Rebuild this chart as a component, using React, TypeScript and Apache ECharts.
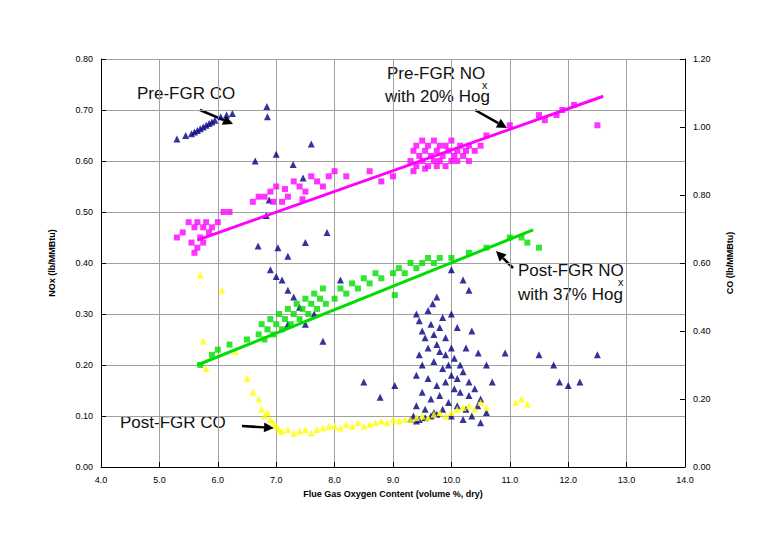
import * as echarts from 'echarts';
import { useEffect, useRef } from 'react';

// [O2 %, NOx lb/MMBtu]
const preNox = [
    [5.3, 0.45], [5.4, 0.46], [5.5, 0.48], [5.55, 0.44], [5.6, 0.47], [5.65, 0.43], [5.7, 0.45], [5.75, 0.47],
    [5.8, 0.48], [5.85, 0.46], [5.9, 0.47], [5.65, 0.48], [5.6, 0.42], [5.75, 0.44], [6.0, 0.48], [6.1, 0.5],
    [6.2, 0.5], [6.6, 0.52], [6.7, 0.53], [6.8, 0.53], [6.9, 0.54], [7.0, 0.55], [7.1, 0.52], [7.2, 0.53],
    [7.3, 0.56], [7.4, 0.55], [7.5, 0.54], [7.6, 0.57], [7.7, 0.56], [7.8, 0.55], [7.9, 0.57], [8.0, 0.58],
    [8.2, 0.57], [8.6, 0.58], [8.8, 0.56], [9.0, 0.57], [6.95, 0.52], [7.15, 0.545], [7.45, 0.525],
    [9.3, 0.6], [9.35, 0.62], [9.4, 0.59], [9.4, 0.63], [9.45, 0.61], [9.5, 0.6], [9.5, 0.64], [9.55, 0.62],
    [9.6, 0.59], [9.6, 0.63], [9.65, 0.61], [9.7, 0.6], [9.7, 0.64], [9.75, 0.62], [9.8, 0.6], [9.8, 0.63],
    [9.85, 0.61], [9.9, 0.59], [9.9, 0.63], [9.95, 0.62], [10.0, 0.6], [10.0, 0.64], [10.05, 0.61],
    [10.1, 0.62], [10.1, 0.6], [10.15, 0.63], [10.2, 0.61], [10.25, 0.62], [10.3, 0.6], [10.3, 0.63],
    [10.4, 0.62], [10.5, 0.63], [9.35, 0.58], [9.55, 0.585], [9.75, 0.59], [10.6, 0.65], [11.0, 0.67],
    [11.5, 0.69], [11.6, 0.68], [11.8, 0.69], [11.9, 0.7], [12.1, 0.71], [12.5, 0.67],
];
const preNoxFit = [[5.65, 0.445], [12.6, 0.727]];

const postNox = [
    [5.7, 0.2], [5.9, 0.22], [6.0, 0.23], [6.2, 0.24], [6.5, 0.25], [6.7, 0.26], [6.75, 0.28], [6.8, 0.25],
    [6.85, 0.27], [6.9, 0.29], [6.95, 0.26], [7.0, 0.28], [7.05, 0.3], [7.1, 0.27], [7.15, 0.29], [7.2, 0.31],
    [7.25, 0.28], [7.3, 0.3], [7.35, 0.32], [7.4, 0.29], [7.45, 0.31], [7.5, 0.33], [7.55, 0.3], [7.6, 0.32],
    [7.65, 0.34], [7.7, 0.31], [7.75, 0.33], [7.8, 0.35], [7.85, 0.32], [8.0, 0.33], [8.1, 0.35], [8.2, 0.34],
    [8.3, 0.36], [8.4, 0.35], [8.5, 0.37], [8.6, 0.36], [8.7, 0.38], [8.8, 0.37], [9.0, 0.38], [9.03, 0.337],
    [9.1, 0.39], [9.2, 0.38], [9.3, 0.4], [9.4, 0.39], [9.5, 0.4], [9.6, 0.41], [9.7, 0.4], [9.8, 0.41],
    [10.0, 0.41], [10.3, 0.42], [10.6, 0.43], [11.0, 0.45], [11.2, 0.45], [11.3, 0.44], [11.5, 0.43],
];
const postNoxFit = [[5.65, 0.2], [11.4, 0.465]];

// [O2 %, CO lb/MMBtu]
const preCo = [
    [5.3, 0.965], [5.45, 0.975], [5.55, 0.98], [5.6, 0.985], [5.65, 0.99], [5.7, 0.995], [5.75, 1.0],
    [5.8, 1.005], [5.85, 1.01], [5.9, 1.015], [5.95, 1.02], [6.05, 1.03], [6.15, 1.035], [6.25, 1.04],
    [6.84, 1.06], [6.85, 1.03], [7.6, 0.95], [6.64, 0.9], [7.0, 0.92], [7.29, 0.89], [7.46, 0.85],
    [6.88, 0.785], [6.83, 0.74], [7.87, 0.69], [7.5, 0.66], [6.69, 0.65], [7.03, 0.645], [7.2, 0.62],
    [6.9, 0.58], [7.0, 0.56], [7.1, 0.55], [7.2, 0.52], [7.3, 0.5], [7.4, 0.47], [7.2, 0.42], [7.5, 0.42],
    [7.8, 0.37], [8.1, 0.55], [7.65, 0.45],
    [9.4, 0.45], [9.45, 0.43], [9.6, 0.46], [9.75, 0.5], [9.68, 0.48], [9.5, 0.4], [9.55, 0.38], [9.65, 0.42],
    [9.7, 0.39], [9.8, 0.41], [9.85, 0.44], [9.9, 0.38], [10.1, 0.41], [9.6, 0.35], [9.75, 0.36], [9.8, 0.34],
    [9.9, 0.33], [10.0, 0.35], [10.05, 0.32], [10.15, 0.3], [9.45, 0.33], [9.5, 0.3], [9.7, 0.31], [9.85, 0.29],
    [9.95, 0.3], [10.0, 0.27], [10.1, 0.26], [10.2, 0.28], [10.3, 0.25], [9.4, 0.27], [9.6, 0.26], [9.75, 0.24],
    [9.9, 0.25], [10.05, 0.23], [10.15, 0.22], [10.3, 0.21], [10.4, 0.23], [10.5, 0.2], [9.5, 0.22], [9.65, 0.2],
    [9.8, 0.21], [9.95, 0.19], [10.1, 0.18], [10.25, 0.17], [10.45, 0.18], [10.6, 0.16], [9.4, 0.18], [9.55, 0.17],
    [9.7, 0.16], [9.85, 0.17], [10.0, 0.15], [10.2, 0.14], [10.35, 0.15], [10.5, 0.13], [9.35, 0.15], [9.45, 0.14],
    [9.55, 0.145], [9.65, 0.15], [9.75, 0.155], [9.3, 0.14], [9.4, 0.135], [10.46, 0.335], [10.92, 0.335],
    [9.03, 0.24], [8.78, 0.205], [8.5, 0.25], [11.5, 0.33], [11.75, 0.3], [12.5, 0.33], [12.0, 0.24],
    [11.85, 0.25], [12.2, 0.25], [10.7, 0.25], [10.6, 0.3], [10.25, 0.35], [10.3, 0.52], [10.0, 0.58],
    [10.2, 0.55], [10.0, 0.45], [10.35, 0.4],
];

const postCo = [
    [5.7, 0.565], [5.75, 0.37], [5.8, 0.29], [6.07, 0.52], [6.3, 0.34], [6.5, 0.26], [6.6, 0.22], [6.7, 0.2],
    [6.75, 0.17], [6.8, 0.15], [6.85, 0.16], [6.9, 0.14], [6.95, 0.13], [7.0, 0.12], [7.05, 0.11], [7.1, 0.105],
    [7.2, 0.11], [7.3, 0.1], [7.4, 0.105], [7.5, 0.11], [7.6, 0.1], [7.7, 0.11], [7.8, 0.115], [7.9, 0.12],
    [8.0, 0.12], [8.1, 0.115], [8.2, 0.125], [8.3, 0.12], [8.4, 0.13], [8.5, 0.12], [8.6, 0.125], [8.7, 0.13],
    [8.8, 0.135], [8.9, 0.13], [9.0, 0.14], [9.1, 0.135], [9.2, 0.14], [9.3, 0.14], [9.4, 0.145], [9.5, 0.15],
    [9.6, 0.145], [9.7, 0.155], [9.8, 0.16], [9.9, 0.15], [10.0, 0.16], [10.1, 0.17], [10.2, 0.175], [10.3, 0.18],
    [10.4, 0.17], [10.5, 0.19], [10.6, 0.175], [11.1, 0.19], [11.2, 0.2], [11.3, 0.185],
];

const xTicks = [4, 14, 1];
const noxTicks = [0, 0.8, 0.1];
const coTicks = [0, 1.2, 0.2];

// page coordinates -> chart coordinates (body margin)
const O = 8;

const arrow = (x1: number, y1: number, x2: number, y2: number) => {
    x1 -= O; y1 -= O; x2 -= O; y2 -= O;
    const a = Math.atan2(y2 - y1, x2 - x1);
    const l = 10, w = 5;
    const bx = x2 - l * Math.cos(a), by = y2 - l * Math.sin(a);
    return [
        { type: 'line', shape: { x1, y1, x2: bx, y2: by }, style: { stroke: '#000', lineWidth: 2.5 } },
        {
            type: 'polygon',
            shape: { points: [[x2, y2], [bx - w * Math.sin(a), by + w * Math.cos(a)], [bx + w * Math.sin(a), by - w * Math.cos(a)]] },
            style: { fill: '#000' },
        },
    ];
};

const label = (x: number, y: number, text: string, size = 17) => ({
    type: 'text', x: x - O, y: y - O,
    style: { text, fill: '#111', font: `${size}px Arial, "Liberation Sans", sans-serif` },
});

const App = () => {
    const chartRef = useRef(null);

    useEffect(() => {
        const chart = echarts.init(chartRef.current, null, { renderer: 'svg' });
        const axisText = { color: '#000', fontSize: 9, fontFamily: 'Arial' };
        const split = { show: true, lineStyle: { color: '#a0a0a0', width: 1, type: 'solid' as const } };
        const nameStyle = { color: '#000', fontSize: 9, fontWeight: 'bold' as const, fontFamily: 'Arial' };

        chart.setOption({
            animation: false,
            grid: { left: 93, right: 75, top: 51, bottom: 63 },
            xAxis: {
                type: 'value', min: xTicks[0], max: xTicks[1], interval: xTicks[2],
                axisLabel: { ...axisText, formatter: (v: number) => v.toFixed(1) },
                axisLine: { lineStyle: { color: '#000' } }, axisTick: { inside: true, lineStyle: { color: '#000' } },
                splitLine: split,
                name: 'Flue Gas Oxygen Content (volume %, dry)', nameLocation: 'middle', nameGap: 22, nameTextStyle: nameStyle,
            },
            yAxis: [
                {
                    type: 'value', min: noxTicks[0], max: noxTicks[1], interval: noxTicks[2],
                    axisLabel: { ...axisText, formatter: (v: number) => v.toFixed(2) },
                    axisLine: { show: true, lineStyle: { color: '#000' } }, axisTick: { show: true, inside: true, lineStyle: { color: '#000' } },
                    splitLine: split,
                    name: 'NOx (lb/MMBtu)', nameLocation: 'middle', nameGap: 45, nameTextStyle: nameStyle,
                },
                {
                    type: 'value', min: coTicks[0], max: coTicks[1], interval: coTicks[2], position: 'right',
                    axisLabel: { ...axisText, formatter: (v: number) => v.toFixed(2) },
                    axisLine: { show: true, lineStyle: { color: '#000' } }, axisTick: { show: true, inside: true, lineStyle: { color: '#000' } },
                    splitLine: { show: false },
                    name: 'CO (lb/MMBtu)', nameLocation: 'middle', nameGap: 40, nameRotate: 90, nameTextStyle: nameStyle,
                },
            ],
            series: [
                { type: 'scatter', data: preCo, yAxisIndex: 1, symbol: 'triangle', symbolSize: 7, itemStyle: { color: '#000080' } },
                { type: 'scatter', data: postCo, yAxisIndex: 1, symbol: 'triangle', symbolSize: 7, itemStyle: { color: '#ffff00' } },
                { type: 'scatter', data: preNox, symbol: 'rect', symbolSize: 6, itemStyle: { color: '#ff00ff' } },
                { type: 'scatter', data: postNox, symbol: 'rect', symbolSize: 6, itemStyle: { color: '#00dd00' } },
                { type: 'line', data: preNoxFit, symbol: 'none', lineStyle: { color: '#ff00ff', width: 3 } },
                { type: 'line', data: postNoxFit, symbol: 'none', lineStyle: { color: '#00dd00', width: 3 } },
            ],
            graphic: [
                label(137, 85, 'Pre-FGR CO'),
                ...arrow(200, 110, 233, 124),
                label(387, 65, 'Pre-FGR NO'),
                label(482, 79, 'x', 11),
                label(385, 88, 'with 20% Hog'),
                ...arrow(475, 110, 507, 128),
                label(518, 262, 'Post-FGR NO'),
                label(618, 276, 'x', 11),
                label(518, 286, 'with 37% Hog'),
                ...arrow(513, 268, 496, 251),
                label(120, 414, 'Post-FGR CO'),
                ...arrow(242, 426, 274, 428),
            ],
        });

        return () => chart.dispose();
    }, []);

    return <div ref={chartRef} style={{ width: '752px', height: '522px', fontFamily: 'Arial' }} />;
};

export default App;
